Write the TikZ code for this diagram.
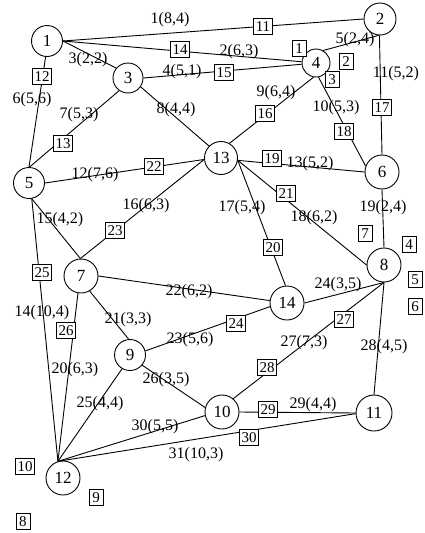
\documentclass[tikz,border=0pt]{standalone}
\usepackage{fontspec}
\setmainfont{Liberation Serif}
\begin{document}
\begin{tikzpicture}[x=1pt,y=-1pt,
  vert/.style={draw,circle,line width=0.9pt,inner sep=0pt,minimum size=#1,font=\fontsize{17}{17}\selectfont},
  vert/.default=32pt,
  edge/.style={line width=0.9pt},
  elab/.style={inner sep=0pt,font=\fontsize{16}{16}\selectfont},
  nbox/.style={draw,fill=white,line width=0.8pt,inner xsep=2pt,inner ysep=2.5pt,text height=11pt,text depth=0pt,minimum width=14pt,font=\fontsize{15}{15}\selectfont}]
\useasboundingbox (0,0) rectangle (424,533);
% vertices
\node[vert=31pt] (n1) at (47,41) {1};
\node[vert=32pt] (n2) at (380,19) {2};
\node[vert=30pt] (n3) at (128,78) {3};
\node[vert=28pt] (n4) at (316,63) {4};
\node[vert=31pt] (n5) at (29,183) {5};
\node[vert=34pt] (n6) at (382,172) {6};
\node[vert=34pt] (n7) at (81,276) {7};
\node[vert=34pt] (n8) at (384,265) {8};
\node[vert=31pt] (n9) at (130,355) {9};
\node[vert=34pt] (n10) at (222,412) {10};
\node[vert=36pt] (n11) at (374,413) {11};
\node[vert=34pt] (n12) at (63,478) {12};
\node[vert=33pt] (n13) at (221,158) {13};
\node[vert=34pt] (n14) at (287,303) {14};
% edges
\draw[edge] (n1.0) -- (n2.180);
\draw[edge] (n1.0) -- (n4.175);
\draw[edge] (n1.0) -- (n3.140);
\draw[edge] (n3.0) -- (n4.185);
\draw[edge] (n4.60) -- (n2.265);
\draw[edge] (n1.-95) -- (n5.90);
\draw[edge] (n3.235) -- (n5.88);
\draw[edge] (n3.-35) -- (n13.135);
\draw[edge] (n4.-100) -- (n13.60);
\draw[edge] (n4.-80) -- (n6.160);
\draw[edge] (n2.268) -- (n6.90);
\draw[edge] (n5.0) -- (n13.185);
\draw[edge] (n13.-8) -- (n6.180);
\draw[edge] (n5.-80) -- (n12.107);
\draw[edge] (n5.-80) -- (n7.92);
\draw[edge] (n13.185) -- (n7.92);
\draw[edge] (n13.-8) -- (n14.95);
\draw[edge] (n13.-8) -- (n8.180);
\draw[edge] (n6.270) -- (n8.90);
\draw[edge] (n12.107) -- (n7.-100);
\draw[edge] (n7.-60) -- (n9.95);
\draw[edge] (n7.0) -- (n14.172);
\draw[edge] (n9.15) -- (n14.192);
\draw[edge] (n14.0) -- (n8.270);
\draw[edge] (n12.107) -- (n9.-120);
\draw[edge] (n9.-40) -- (n10.165);
\draw[edge] (n10.50) -- (n8.270);
\draw[edge] (n8.270) -- (n11.90);
\draw[edge] (n12.107) -- (n10.192);
\draw[edge] (n10.0) -- (n11.180);
\draw[edge] (n12.107) -- (n11.182);
% edge labels
\node[elab] (l1) at (170,20) {1(8,4)};
\node[elab] (l2) at (239,52) {2(6,3)};
\node[elab] (l3) at (88,60) {3(2,2)};
\node[elab] (l4) at (182,72) {4(5,1)};
\node[elab] (l5) at (355,40) {5(2,4)};
\node[elab] (l6) at (32,100) {6(5,6)};
\node[elab] (l7) at (79,115) {7(5,3)};
\node[elab] (l8) at (176,110) {8(4,4)};
\node[elab] (l9) at (276,93) {9(6,4)};
\node[elab] (l10) at (336,108) {10(5,3)};
\node[elab] (l11) at (396,74) {11(5,2)};
\node[elab] (l12) at (95,175) {12(7,6)};
\node[elab] (l13) at (310,164) {13(5,2)};
\node[elab] (l14) at (42,313) {14(10,4)};
\node[elab] (l15) at (60,220) {15(4,2)};
\node[elab] (l16) at (146,206) {16(6,3)};
\node[elab] (l17) at (242,208) {17(5,4)};
\node[elab] (l18) at (314,218) {18(6,2)};
\node[elab] (l19) at (383,208) {19(2,4)};
\node[elab] (l20) at (75,370) {20(6,3)};
\node[elab] (l21) at (128,320) {21(3,3)};
\node[elab] (l22) at (189,292) {22(6,2)};
\node[elab] (l23) at (190,340) {23(5,6)};
\node[elab] (l24) at (338,285) {24(3,5)};
\node[elab] (l25) at (100,404) {25(4,4)};
\node[elab] (l26) at (166,380) {26(3,5)};
\node[elab] (l27) at (304,343) {27(7,3)};
\node[elab] (l28) at (384,347) {28(4,5)};
\node[elab] (l29) at (313,405) {29(4,4)};
\node[elab] (l30) at (155,427) {30(5,5)};
\node[elab] (l31) at (196,455) {31(10,3)};
% numbered boxes
\node[nbox] (b1) at (299,48) {1};
\node[nbox] (b2) at (346,61) {2};
\node[nbox] (b3) at (332,79) {3};
\node[nbox] (b4) at (409,244) {4};
\node[nbox] (b5) at (415,279) {5};
\node[nbox] (b6) at (415,306) {6};
\node[nbox] (b7) at (365,233) {7};
\node[nbox] (b8) at (23,521) {8};
\node[nbox] (b9) at (96,497) {9};
\node[nbox] (b10) at (25,466) {10};
\node[nbox] (b11) at (263,26) {11};
\node[nbox] (b12) at (42,76) {12};
\node[nbox] (b13) at (63,143) {13};
\node[nbox] (b14) at (180,49) {14};
\node[nbox] (b15) at (224,72) {15};
\node[nbox] (b16) at (265,113) {16};
\node[nbox] (b17) at (382,107) {17};
\node[nbox] (b18) at (344,131) {18};
\node[nbox] (b19) at (272,158) {19};
\node[nbox] (b20) at (273,247) {20};
\node[nbox] (b21) at (286,193) {21};
\node[nbox] (b22) at (154,166) {22};
\node[nbox] (b23) at (115,230) {23};
\node[nbox] (b24) at (236,323) {24};
\node[nbox] (b25) at (42,272) {25};
\node[nbox] (b26) at (66,330) {26};
\node[nbox] (b27) at (344,319) {27};
\node[nbox] (b28) at (267,367) {28};
\node[nbox] (b29) at (268,409) {29};
\node[nbox] (b30) at (249,437) {30};
\end{tikzpicture}
\end{document}
